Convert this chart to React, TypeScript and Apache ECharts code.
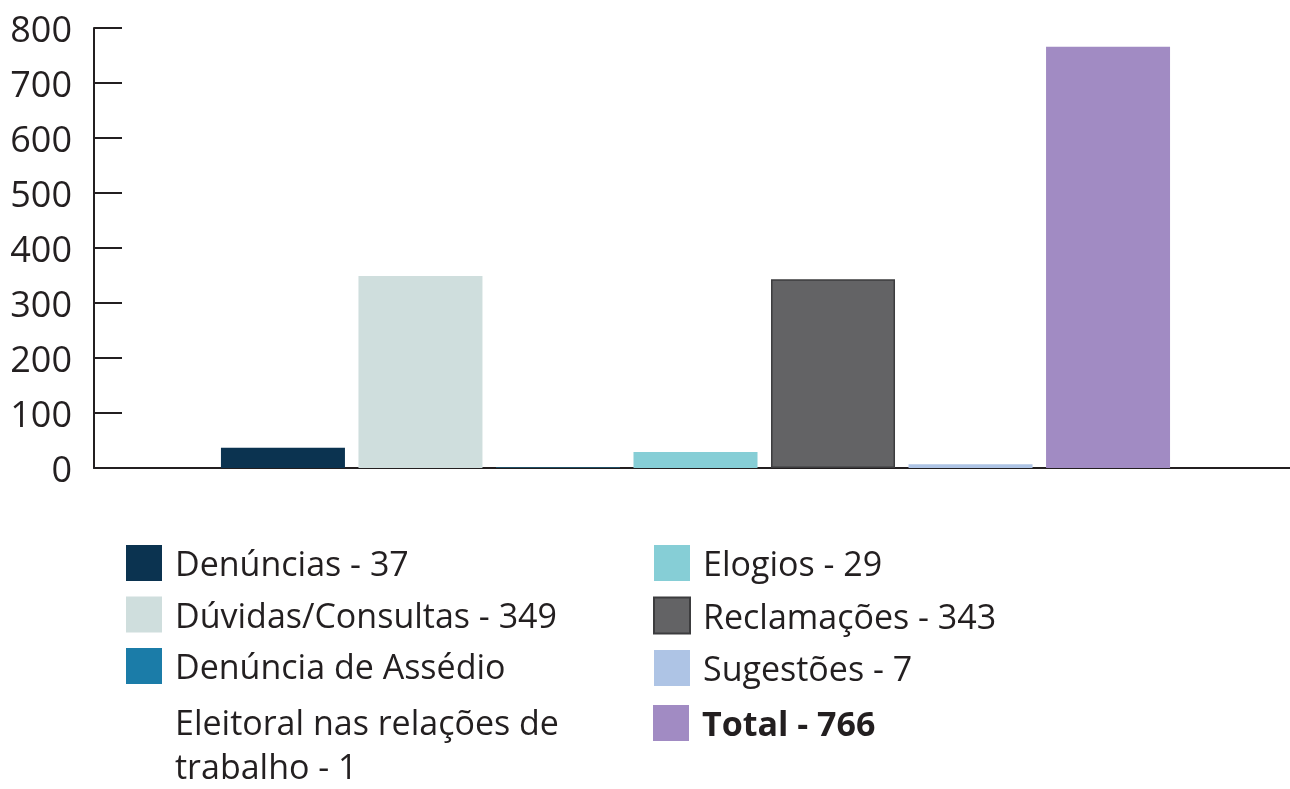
import React, { useEffect, useRef } from "react";
import * as echarts from "echarts";

const seriesNames = [
  "Denúncias",
  "Dúvidas/Consultas",
  "Denúncia de Assédio Eleitoral nas relações de trabalho",
  "Elogios",
  "Reclamações",
  "Sugestões",
  "Total",
];
const seriesValues = [37, 349, 1, 29, 343, 7, 766];
const seriesColors = ["#0b3350", "#cfdedd", "#1b7ca8", "#86ced6", "#636365", "#aec4e5", "#a18bc3"];
const yTicks = { min: 0, max: 800, interval: 100 };
const assedioLines = ["Denúncia de Assédio", "Eleitoral nas relações de", "trabalho - 1"];

const FONT = "Open Sans";
const TEXT = "#231f20";
const LFS = 34;

export default function App() {
  const ref = useRef<HTMLDivElement>(null);
  useEffect(() => {
    if (!ref.current) return;
    const chart = echarts.init(ref.current, undefined, { renderer: "svg" });
    const valueOf = (n: string) => seriesValues[seriesNames.indexOf(n)];
    const fmt = (n: string) => {
      if (n === seriesNames[2]) return assedioLines[0];
      return n + " - " + valueOf(n);
    };
    const legendBase = {
      orient: "vertical",
      icon: "rect",
      padding: 0,
      itemWidth: 36,
      itemHeight: 36,
      itemGap: 15.5,
      selectedMode: false,
      formatter: fmt,
      textStyle: {
        fontFamily: FONT,
        fontSize: LFS,
        color: TEXT,
        lineHeight: 36,
        padding: [0, 0, 0, 8],
      },
    };
    chart.setOption({
      animation: false,
      grid: { left: 94, right: 0, top: 28, bottom: 321, containLabel: false },
      xAxis: {
        type: "category",
        data: [""],
        axisTick: { show: false },
        axisLabel: { show: false },
        axisLine: { lineStyle: { color: TEXT, width: 2 } },
      },
      yAxis: {
        type: "value",
        min: yTicks.min,
        max: yTicks.max,
        interval: yTicks.interval,
        splitLine: { show: false },
        axisLine: { show: true, lineStyle: { color: TEXT, width: 2 } },
        axisTick: { show: true, inside: true, length: 28, lineStyle: { color: TEXT, width: 2 } },
        axisLabel: { fontFamily: FONT, fontSize: 36, color: TEXT, margin: 22 },
      },
      legend: [
        { ...legendBase, left: 126, top: 545, data: seriesNames.slice(0, 3) },
        { ...legendBase, left: 653, top: 545, data: seriesNames.slice(3, 6) },
        {
          ...legendBase,
          left: 653,
          top: 705,
          data: [seriesNames[6]],
          textStyle: { ...legendBase.textStyle, fontWeight: "bold" },
        },
      ],
      graphic: assedioLines.slice(1).map((t, i) => ({
        type: "text",
        x: 175,
        y: 722 + i * 44,
        style: {
          text: t,
          fontFamily: FONT,
          fontSize: LFS,
          fill: TEXT,
          lineHeight: 28,
          verticalAlign: "middle",
        },
      })),
      series: seriesNames.map((name, i) => ({
        type: "bar",
        name,
        data: [seriesValues[i]],
        barWidth: 124,
        barGap: "10.9%",
        itemStyle:
          i === 4
            ? { color: seriesColors[i], borderColor: "#3c3c3e", borderWidth: 1.5 }
            : { color: seriesColors[i] },
      })),
    });
    return () => chart.dispose();
  }, []);
  return (
    <div style={{ position: "fixed", left: 0, top: 0, width: 1290, height: 789, overflow: "hidden" }}>
      <div ref={ref} style={{ position: "absolute", left: 0, top: 0, width: 1297, height: 789 }} />
    </div>
  );
}
